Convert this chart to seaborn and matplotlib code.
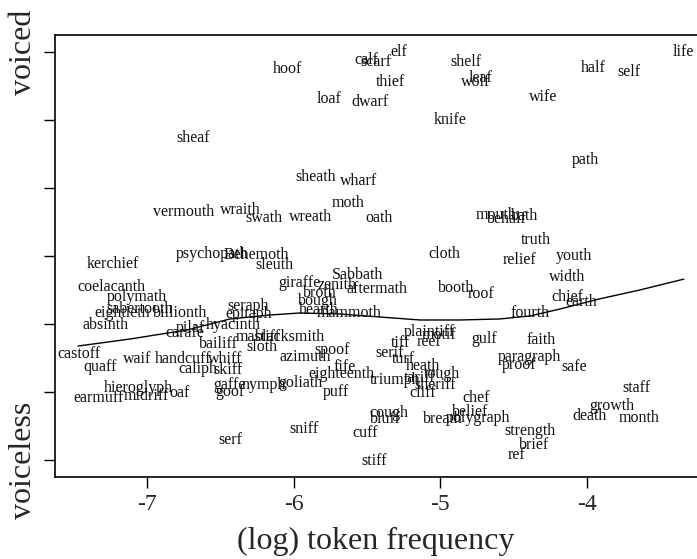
import numpy as np
import pandas as pd
import seaborn as sns
import matplotlib.pyplot as plt


# words, their (log) token frequency and voicing score
words = [
    "life", "elf", "calf", "scarf", "hoof", "shelf", "thief", "leaf", "wolf",
    "half", "self", "wife", "loaf", "dwarf", "knife", "sheaf", "path",
    "sheath", "wharf", "moth", "vermouth", "wraith", "swath", "wreath", "oath",
    "mouth", "bath", "behalf", "truth", "cloth", "youth", "relief",
    "psychopath", "Behemoth", "sleuth", "kerchief",
    "coelacanth", "polymath", "absinth", "castoff", "quaff", "waif", "pilaf",
    "caliph", "skiff", "giraffe", "zenith", "Sabbath", "broth", "aftermath",
    "hearth", "mammoth", "booth", "roof", "width", "chief", "earth", "fourth",
    "gulf", "faith", "paragraph", "proof", "safe", "plaintiff", "motif",
    "tiff", "reef", "serif", "turf", "heath", "spoof", "azimuth", "fife",
    "eighteenth", "triumph", "sheriff", "cliff", "goliath", "nymph", "puff",
    "cough", "bluff", "breath", "sniff", "cuff", "stiff", "serf", "chef",
    "belief", "strength", "brief", "ref", "death", "growth", "month", "staff",
    "hieroglyph", "earmuff", "midriff", "oaf",
    "eightieth", "sabertooth", "billionth", "seraph", "epitaph", "hyacinth",
    "carafe", "bailiff", "mastiff", "blacksmith", "sloth", "handcuff", "whiff",
    "gaffe", "goof", "tariff", "tough", "polygraph", "bough",
]

log_freq = [
    -3.346, -5.282, -5.507, -5.439, -6.039, -4.826, -5.337, -4.723, -4.757,
    -3.960, -3.714, -4.301, -5.759, -5.480, -4.935, -6.686, -4.014,
    -5.848, -5.555, -5.630, -6.748, -6.366, -6.202, -5.882, -5.419,
    -4.621, -4.423, -4.546, -4.348, -4.975, -4.090, -4.457,
    -6.557, -6.257, -6.134, -7.232,
    -7.239, -7.068, -7.279, -7.464, -7.320, -7.068, -6.707,
    -6.652, -6.448, -5.957, -5.705, -5.562, -5.821, -5.432,
    -5.828, -5.623, -4.894, -4.723, -4.137, -4.137, -4.042, -4.389,
    -4.703, -4.314, -4.389, -4.464, -4.089, -5.071, -5.010,
    -5.269, -5.078, -5.344, -5.255, -5.119, -5.739, -5.923, -5.650,
    -5.671, -5.309, -5.037, -5.119, -5.950, -6.202, -5.712,
    -5.350, -5.371, -4.980, -5.930, -5.514, -5.453, -6.434, -4.757,
    -4.798, -4.389, -4.362, -4.478, -3.980, -3.830, -3.646, -3.660,
    -7.061, -7.327, -7.007, -6.775,
    -7.170, -7.048, -6.775, -6.312, -6.305, -6.414,
    -6.741, -6.516, -6.243, -6.025, -6.216, -6.755, -6.468,
    -6.434, -6.434, -5.140, -4.986, -4.741, -5.834,
]

voicing = [
    6.00, 6.00, 5.88, 5.85, 5.75, 5.85, 5.56, 5.62, 5.56,
    5.76, 5.71, 5.34, 5.31, 5.26, 5.00, 4.74, 4.41,
    4.16, 4.10, 3.78, 3.65, 3.68, 3.56, 3.57, 3.56,
    3.60, 3.59, 3.54, 3.24, 3.03, 3.00, 2.94,
    3.03, 3.01, 2.87, 2.88,
    2.54, 2.40, 1.99, 1.56, 1.37, 1.49, 1.94,
    1.34, 1.32, 2.60, 2.57, 2.72, 2.46, 2.51,
    2.21, 2.16, 2.53, 2.44, 2.69, 2.40, 2.32, 2.16,
    1.78, 1.76, 1.51, 1.40, 1.37, 1.88, 1.84,
    1.72, 1.74, 1.57, 1.49, 1.38, 1.62, 1.51, 1.37,
    1.26, 1.18, 1.10, 0.99, 1.13, 1.10, 1.00,
    0.69, 0.60, 0.60, 0.46, 0.40, -0.01, 0.29, 0.91,
    0.71, 0.43, 0.22, 0.07, 0.65, 0.79, 0.62, 1.06,
    1.06, 0.91, 0.94, 0.99,
    2.16, 2.22, 2.16, 2.26, 2.15, 1.99,
    1.87, 1.71, 1.81, 1.81, 1.66, 1.49, 1.49,
    1.10, 1.00, 1.21, 1.26, 0.62, 2.34,
]

# smoothed trend line
smooth_x = [-7.470, -7.116, -6.727, -6.434, -6.162, -5.957, -5.684, -5.412,
            -5.139, -4.867, -4.594, -4.389, -4.185, -3.913, -3.640, -3.340]
smooth_y = [1.676, 1.779, 1.912, 2.074, 2.132, 2.162, 2.147, 2.103,
            2.059, 2.059, 2.074, 2.118, 2.220, 2.370, 2.500, 2.660]

x_ticks = [-7, -6, -5, -4]
y_ticks = [0, 1, 2, 3, 4, 5, 6]
y_tick_labels = ["voiceless", "", "", "", "", "", "voiced"]


def main():
  sns.set_theme(style="white")
  plt.rcParams['font.family'] = ['Liberation Serif', 'DejaVu Serif']

  df = pd.DataFrame({'word': words, 'freq': log_freq, 'voice': voicing})
  trend = pd.DataFrame({'x': smooth_x, 'y': smooth_y})

  fig = plt.figure(figsize=(6.97, 5.59), dpi=100)
  ax = fig.add_axes([55 / 697, 1 - 477 / 559, 1 - 55 / 697, (477 - 35) / 559])

  sns.lineplot(data=trend, x='x', y='y', color='black', lw=1, ax=ax)

  for _, row in df.iterrows():
    ax.text(row['freq'], row['voice'], row['word'], ha='center', va='center',
            fontsize=11.5, color='#111111')

  ax.set_xlim(-7.627, -3.25)
  ax.set_ylim(-0.25, 6.25)
  ax.set_xticks(x_ticks)
  ax.set_xticklabels([str(t) for t in x_ticks], fontsize=17)
  ax.set_yticks(y_ticks)
  ax.set_yticklabels(y_tick_labels, fontsize=23, rotation=90, va='center')
  ax.tick_params(axis='both', direction='out', length=8, width=1,
                 color='black', left=True, bottom=True, pad=4)
  ax.set_xlabel('(log) token frequency', fontsize=23, labelpad=9)
  ax.set_ylabel('')

  for side in ['left', 'bottom', 'top']:
    ax.spines[side].set_color('black')
    ax.spines[side].set_linewidth(1.2)
  ax.spines['right'].set_visible(False)

  plt.savefig('out.png', dpi=100)
  plt.clf()


if __name__ == "__main__":
  main()
